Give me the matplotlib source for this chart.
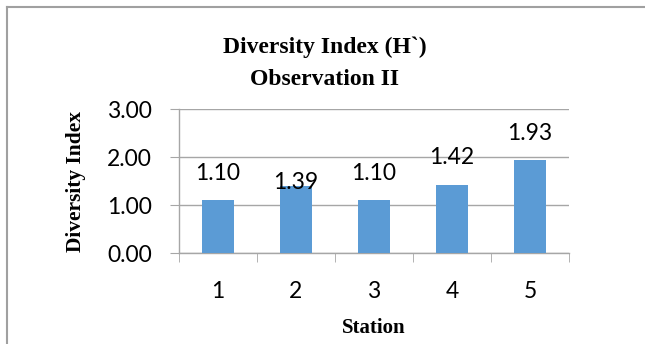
import matplotlib.pyplot as plt
from matplotlib.lines import Line2D
import numpy as np

# Diversity index per station, observation II
stations = ['1', '2', '3', '4', '5']
diversity = [1.10, 1.39, 1.10, 1.42, 1.93]
value_labels = ['1.10', '1.39', '1.10', '1.42', '1.93']
label_offsets = [19.5, 3.0, 19.5, 19.5, 19.5]  # points above bar top

bar_color = '#5b9bd5'
line_color = '#a6a6a6'

fig = plt.figure(figsize=(6.45, 3.44), dpi=100)
ax = fig.add_axes([179 / 645, 91 / 344, 390 / 645, 144 / 344])

x = np.arange(len(stations))
ax.bar(x, diversity, width=0.4, color=bar_color, zorder=3)

# data labels
for xi, v, lab, off in zip(x, diversity, value_labels, label_offsets):
    ax.annotate(lab, (xi, v), xytext=(0, off), textcoords='offset points',
                ha='center', va='center', fontsize=16.5, family='Lato')

ax.set_xlim(-0.5, len(stations) - 0.5)
ax.set_ylim(0, 3)
ax.set_yticks([0, 1, 2, 3])
ax.set_yticklabels(['0.00', '1.00', '2.00', '3.00'], fontsize=16.5, family='Lato')
ax.set_xticks(x)
ax.set_xticklabels(stations, fontsize=16.5, family='Lato')
ax.set_xticks(np.arange(-0.5, len(stations)), minor=True)

ax.tick_params(axis='x', which='major', length=0, pad=20)
ax.tick_params(axis='x', which='minor', length=6.5, color=line_color, direction='out')
ax.tick_params(axis='y', length=6.5, color=line_color, pad=13)

ax.grid(axis='y', color=line_color, linewidth=1, zorder=0)
for s in ['top', 'right']:
    ax.spines[s].set_visible(False)
for s in ['left', 'bottom']:
    ax.spines[s].set_color(line_color)
    ax.spines[s].set_linewidth(1)

# titles and axis labels
fig.text(325 / 645, 1 - 53 / 344, 'Diversity Index (H`)', ha='center', va='baseline',
         fontsize=17, fontweight='bold', family='Liberation Serif')
fig.text(325 / 645, 1 - 85 / 344, 'Observation II', ha='center', va='baseline',
         fontsize=17, fontweight='bold', family='Liberation Serif')
fig.text(374 / 645, 1 - 328 / 344, 'Station', ha='center', va='center',
         fontsize=15, fontweight='bold', family='Liberation Serif')
fig.text(76 / 645, 1 - 181 / 344, 'Diversity Index', ha='center', va='center', rotation=90,
         fontsize=15.5, fontweight='bold', family='Liberation Serif')

# chart area border (top and left edges visible)
fig.add_artist(Line2D([6.5 / 645, 1], [1 - 6.5 / 344, 1 - 6.5 / 344], color='#a0a0a0', linewidth=1.5))
fig.add_artist(Line2D([6.5 / 645, 6.5 / 645], [0, 1 - 6.5 / 344], color='#a0a0a0', linewidth=1.5))

fig.savefig('out.png', dpi=100)
